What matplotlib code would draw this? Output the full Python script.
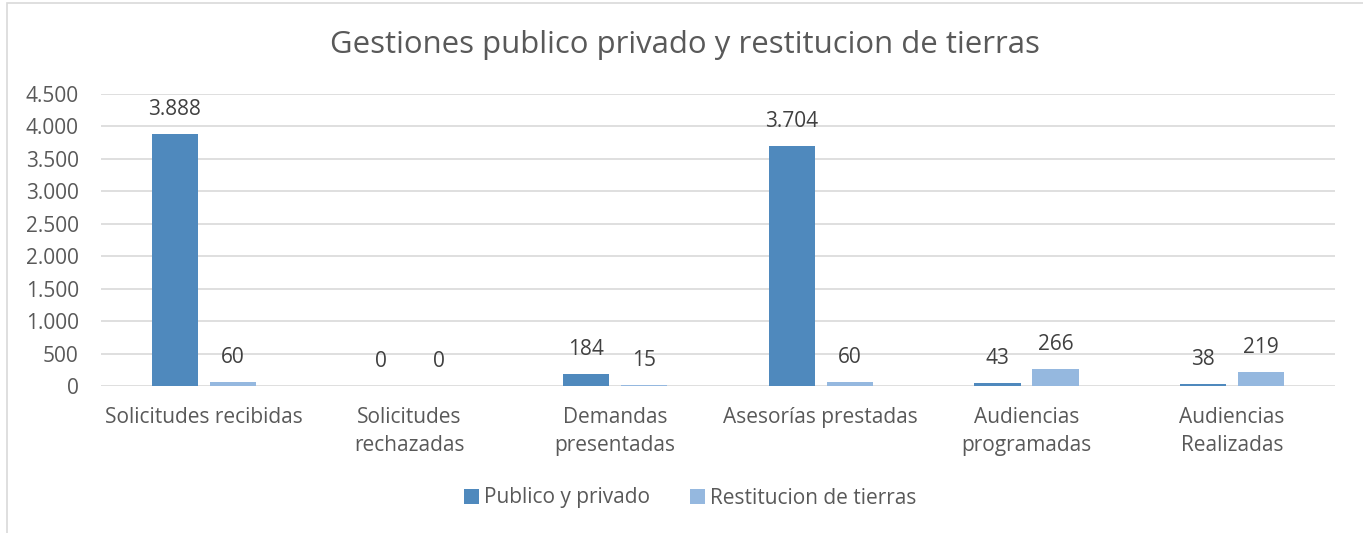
import matplotlib
matplotlib.use("Agg")
import matplotlib.pyplot as plt
from matplotlib.patches import Rectangle
import numpy as np

categories = ["Solicitudes recibidas", "Solicitudes\nrechazadas", "Demandas\npresentadas",
              "Asesorías prestadas", "Audiencias\nprogramadas", "Audiencias\nRealizadas"]
publico_privado = [3888, 0, 184, 3704, 43, 38]
restitucion = [60, 0, 15, 60, 266, 219]
series_names = ["Publico y privado", "Restitucion de tierras"]
y_ticks = [0, 500, 1000, 1500, 2000, 2500, 3000, 3500, 4000, 4500]

plt.rcParams['font.family'] = ['Open Sans', 'DejaVu Sans']

W, H = 1363, 533
fig = plt.figure(figsize=(W / 100, H / 100), dpi=100)
ax = fig.add_axes([101 / W, 1 - 386 / H, (1335 - 101) / W, (386 - 94) / H])

def fmt(v):
    return f"{v:,}".replace(",", ".")

FS = 15
x = np.arange(len(categories))
bw = 0.224
off = 0.141
c1, c2 = "#4f89bd", "#95b8df"
b1 = ax.bar(x - off, publico_privado, bw, color=c1, label=series_names[0], zorder=3)
b2 = ax.bar(x + off, restitucion, bw, color=c2, label=series_names[1], zorder=3)

for bars, vals in ((b1, publico_privado), (b2, restitucion)):
    for r, v in zip(bars, vals):
        ax.annotate(fmt(v), (r.get_x() + r.get_width() / 2, v), xytext=(0, 10),
                    textcoords="offset points", ha="center", va="bottom",
                    fontsize=FS, color="#404040")

ax.set_xlim(-0.5, len(categories) - 0.5)
ax.set_ylim(0, 4500)
ax.set_yticks(y_ticks)
ax.set_yticklabels([fmt(t) for t in y_ticks])
ax.set_xticks(x)
ax.set_xticklabels(categories, linespacing=1.42)
ax.tick_params(axis="both", length=0, labelsize=FS, labelcolor="#595959")
ax.tick_params(axis="y", pad=16)
ax.tick_params(axis="x", pad=15)
ax.grid(axis="y", color="#d9d9d9", linewidth=1.2, zorder=0)
for s in ax.spines.values():
    s.set_visible(False)

fig.text(685 / W, 1 - 45 / H, "Gestiones publico privado y restitucion de tierras",
         ha="center", va="center", fontsize=22.4, color="#595959")

fig.legend(handles=[b1, b2], labels=series_names, loc="center", bbox_to_anchor=(690 / W, 1 - 498 / H),
           ncol=2, frameon=False, fontsize=FS, labelcolor="#595959",
           handlelength=0.72, handleheight=0.72, handletextpad=0.25, columnspacing=1.9)

fig.patches.append(Rectangle((7 / W, -0.1), 1.2, 1 - 3 / H + 0.1, transform=fig.transFigure,
                             fill=False, edgecolor="#d9d9d9", linewidth=1.2))

fig.savefig("out.png", dpi=100)
